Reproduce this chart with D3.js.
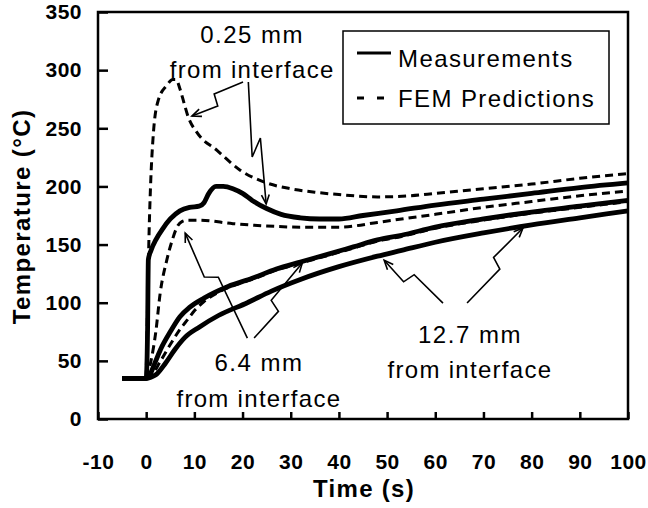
<!DOCTYPE html>
<html>
<head>
<meta charset="utf-8">
<script src="https://cdn.jsdelivr.net/npm/d3@7"></script>
<style>
  html, body { margin: 0; padding: 0; background: #fff; }
  svg { display: block; font-family: "Liberation Sans", Arial, sans-serif; }
</style>
</head>
<body>
<svg id="chart" width="648" height="508"></svg>
<script>
// Axis ticks
const timeTicks = [-10, 0, 10, 20, 30, 40, 50, 60, 70, 80, 90, 100];
const tempTicks = [0, 50, 100, 150, 200, 250, 300, 350];

// Measurements, 0.25 mm from interface
const m025Time = [-5, -2, 0, 0.3, 0.45, 1, 2, 3.5, 5, 7, 9, 11, 12, 13, 14.5, 16, 18, 20, 22, 25, 28, 32, 36, 40, 45, 52, 60, 70, 80, 90, 100];
const m025Temp = [35, 35, 35, 80, 137, 145, 154, 164, 172, 179, 182, 183, 186, 194, 200, 200, 198, 194, 188, 181, 176, 173, 172, 172, 175, 179, 184, 189, 194, 199, 203];

// FEM predictions, 0.25 mm from interface
const f025Time = [0, 0.3, 0.6, 0.8, 1.5, 2.5, 4.3, 5.5, 6.2, 7, 7.5, 8.7, 10.6, 14.7, 19.5, 25, 30, 35, 40, 48, 55, 60, 70, 80, 90, 100];
const f025Temp = [35, 100, 160, 188, 246, 274, 287, 292, 292, 284, 277, 260, 246, 231, 214, 203, 198, 195, 193, 191, 192, 194, 198, 202, 207, 211];

// Measurements, 6.4 mm from interface
const m64Time = [-5, -2, 0, 0.5, 1.5, 3, 5, 7, 9, 12, 17, 22, 27, 32, 38, 43, 48, 53, 60, 70, 80, 90, 100];
const m64Temp = [35, 35, 35, 36, 45, 60, 75, 88, 96, 104, 114, 121, 129, 135, 142, 148, 154, 158, 165, 172, 178, 183, 188];

// FEM predictions, 6.4 mm from interface
const f64Time = [0, 1, 2, 2.9, 4.3, 5.5, 6.4, 7.5, 8.5, 11, 18, 25, 32, 40, 48, 53, 60, 70, 80, 90, 100];
const f64Temp = [35, 50, 75, 108, 137, 155, 165, 170, 171, 171, 168, 166, 165, 165, 169, 172, 176, 182, 187, 192, 196];

// Measurements, 12.7 mm from interface
const m127Time = [-5, -2, 0, 1, 2, 4, 6, 8, 11, 15, 21, 26, 32, 40, 48, 53, 60, 70, 80, 90, 100];
const m127Temp = [35, 35, 35, 36, 38, 48, 60, 70, 79, 89, 100, 110, 120, 131, 140, 145, 152, 160, 167, 173, 179];

// FEM predictions, 12.7 mm from interface
const f127Time = [0, 1, 3, 5, 7, 8.5, 10, 12, 15, 17, 22, 27, 32, 38, 43, 48, 53, 60, 70, 80, 90, 100];
const f127Temp = [35, 37, 50, 64, 77, 85, 93, 101, 109, 113, 120, 128, 134, 141, 147, 153, 157, 164, 171, 177, 182, 187];

const legendLabels = ["Measurements", "FEM Predictions"];

// Callout labels and their arrows, in axis units (time s, temperature °C)
const callouts = [
  { lines: ["0.25 mm", "from interface"], at: [22, 323.3], lineGap: 30.1,
    arrows: [
      { pts: [[20.1, 289.8], [9.5, 260.5]], kink: 0.5 },
      { pts: [[21.2, 289.8], [22.0, 225.3], [23.7, 241.6], [24.9, 184.9]] }
    ] },
  { lines: ["6.4 mm", "from interface"], at: [23.4, 41.3], lineGap: 31.0,
    arrows: [
      { pts: [[21.0, 69.6], [8.1, 159.9]], kink: 0.55 },
      { pts: [[22.4, 69.6], [32.4, 134.1]], kink: 0.4 }
    ] },
  { lines: ["12.7 mm", "from interface"], at: [67.2, 65.3], lineGap: 30.0,
    arrows: [
      { pts: [[61.6, 99.7], [49.4, 136.5]], kink: 0.55 },
      { pts: [[66.6, 99.7], [78.2, 164.2]], kink: 0.5 }
    ] }
];

const svg = d3.select("#chart");
const x = d3.scaleLinear().domain([-10, 100]).range([98, 628]);
const y = d3.scaleLinear().domain([0, 350]).range([419, 12]);

const zip = (ts, vs) => ts.map((t, i) => [t, vs[i]]);
const line = d3.line().x(d => x(d[0])).y(d => y(d[1])).curve(d3.curveMonotoneX);

// FEM predictions (dashed)
[[f025Time, f025Temp], [f64Time, f64Temp], [f127Time, f127Temp]].forEach(([ts, vs]) => {
  svg.append("path")
    .attr("d", line(zip(ts, vs)))
    .attr("fill", "none").attr("stroke", "#000")
    .attr("stroke-width", 3).attr("stroke-dasharray", "8,5");
});

// Measurements (solid)
[[m025Time, m025Temp], [m64Time, m64Temp], [m127Time, m127Temp]].forEach(([ts, vs]) => {
  svg.append("path")
    .attr("d", line(zip(ts, vs)))
    .attr("fill", "none").attr("stroke", "#000")
    .attr("stroke-width", 4.8).attr("stroke-linejoin", "round");
});

// Axes with inward ticks; plain hyphen for negative labels
const plain = d => String(d);
const yAxis = svg.append("g").attr("transform", `translate(${x(-10)},0)`)
  .call(d3.axisLeft(y).tickValues(tempTicks).tickFormat(plain).tickSize(-10).tickPadding(16));
const xAxis = svg.append("g").attr("transform", `translate(0,${y(0)})`)
  .call(d3.axisBottom(x).tickValues(timeTicks).tickFormat(plain).tickSize(-7).tickPadding(35));
[yAxis, xAxis].forEach(g => {
  g.select(".domain").remove();
  g.selectAll(".tick line").attr("stroke", "#000").attr("stroke-width", 2.5);
  g.selectAll(".tick text")
    .attr("fill", "#000")
    .style("font-family", '"Liberation Sans", Arial, sans-serif')
    .style("font-size", "21px").style("font-weight", "bold")
    .style("letter-spacing", "0.5px");
});

// Plot frame
svg.append("rect")
  .attr("x", x(-10)).attr("y", y(350))
  .attr("width", x(100) - x(-10)).attr("height", y(0) - y(350))
  .attr("fill", "none").attr("stroke", "#000").attr("stroke-width", 2.5);

// Axis titles
svg.append("text")
  .attr("transform", `translate(30,${(y(0) + y(350)) / 2 + 1}) rotate(-90)`)
  .attr("text-anchor", "middle")
  .style("font-size", "24px").style("font-weight", "bold").style("letter-spacing", "1.4px")
  .text("Temperature (°C)");
svg.append("text")
  .attr("x", (x(-10) + x(100)) / 2 + 1).attr("y", 497)
  .attr("text-anchor", "middle")
  .style("font-size", "24px").style("font-weight", "bold").style("letter-spacing", "1.3px")
  .text("Time (s)");

// Legend
const lg = svg.append("g");
lg.append("rect").attr("x", 343).attr("y", 31).attr("width", 266).attr("height", 93)
  .attr("fill", "#fff").attr("stroke", "#000").attr("stroke-width", 1.5);
lg.append("line").attr("x1", 357).attr("x2", 391).attr("y1", 53).attr("y2", 53)
  .attr("stroke", "#000").attr("stroke-width", 3);
lg.append("line").attr("x1", 357).attr("x2", 391).attr("y1", 98).attr("y2", 98)
  .attr("stroke", "#000").attr("stroke-width", 3).attr("stroke-dasharray", "7,13");
legendLabels.forEach((s, i) => {
  lg.append("text").attr("x", 398).attr("y", 67 + i * 40)
    .style("font-size", "24px").style("letter-spacing", "1.4px").text(s);
});

// Callouts: labels and zigzag arrows
function zigzag(p, k) {
  const [a, b] = p;
  const dx = b[0] - a[0], dy = b[1] - a[1];
  const len = Math.hypot(dx, dy);
  const nx = -dy / len, ny = dx / len, d = 6;
  const at = f => [a[0] + dx * f, a[1] + dy * f];
  const p1 = at(k), p2 = at(k + 0.06);
  return [a, [p1[0] + nx * d, p1[1] + ny * d], [p2[0] - nx * d, p2[1] - ny * d], b];
}
callouts.forEach(c => {
  c.lines.forEach((s, i) => {
    svg.append("text")
      .attr("x", x(c.at[0])).attr("y", y(c.at[1] - i * c.lineGap))
      .attr("text-anchor", "middle")
      .style("font-size", "24px").style("letter-spacing", s.length > 8 ? "1.3px" : "1.5px")
      .text(s);
  });
  c.arrows.forEach(a => {
    let pts = a.pts.map(d => [x(d[0]), y(d[1])]);
    if (a.kink !== undefined) pts = zigzag(pts, a.kink);
    svg.append("path").attr("d", d3.line()(pts))
      .attr("fill", "none").attr("stroke", "#000").attr("stroke-width", 1.6)
      .attr("stroke-linejoin", "miter");
    const e = pts[pts.length - 1], s = pts[pts.length - 2];
    const ang = Math.atan2(e[1] - s[1], e[0] - s[0]);
    const L = 10, w = 0.4;
    const head = [
      [e[0] - L * Math.cos(ang - w), e[1] - L * Math.sin(ang - w)],
      e,
      [e[0] - L * Math.cos(ang + w), e[1] - L * Math.sin(ang + w)]
    ];
    svg.append("path").attr("d", d3.line()(head))
      .attr("fill", "none").attr("stroke", "#000").attr("stroke-width", 1.6);
  });
});
</script>
</body>
</html>
